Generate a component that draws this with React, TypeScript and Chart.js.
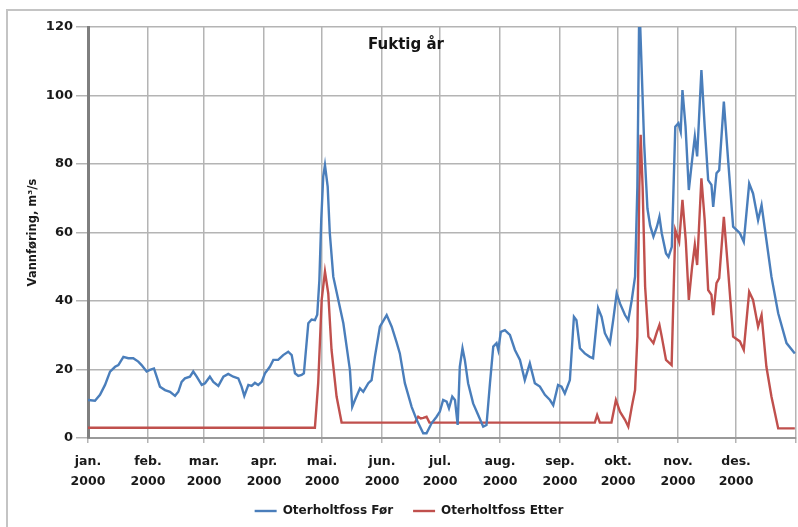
import React, { useEffect, useRef } from "react";
import { Chart, registerables } from "chart.js";

Chart.register(...registerables);

const monthDays = [0, 31, 60, 91, 121, 152, 182, 213, 244, 274, 305, 335, 366];
const monthLabels = ["jan.", "feb.", "mar.", "apr.", "mai.", "jun.", "jul.", "aug.", "sep.", "okt.", "nov.", "des.", ""];
const yearLabel = "2000";
const yTicks = [0, 20, 40, 60, 80, 100, 120];

const forDays = [
  0, 3.6, 6.2, 8.8, 11.4, 14, 15.7, 18.3, 20.8, 23.4, 26, 27.7, 30.3, 32, 34.1, 35.5, 37.2, 39.8, 42.4, 45,
  46.7, 48.4, 50.1, 52.7, 54.4, 56.2, 58.8, 60.5, 63, 64.8, 67.4, 70, 72.5, 75.1, 77.7, 79.4, 80.8, 82.9, 84.6,
  86.3, 88, 89.8, 91.5, 94, 95.8, 98.3, 100.9, 103.5, 105.3, 107, 108.7, 110.4, 111.6, 113.9, 115.6, 117.3,
  118.5, 119.6, 120.6, 121.6, 122.5, 123.9, 125, 126.8, 129.4, 132, 133.7, 135.4, 136.6, 138, 140.6, 142.3, 144.9,
  146.6, 148.3, 150.9, 154.4, 157, 159.5, 161.2, 163.8, 167.3, 169.9, 173.3, 175, 177.6, 180.2, 181.9, 183.6,
  185.4, 186.6, 188.3, 189.7, 191.1, 192.2, 193.6, 194.8, 196.5, 199.1, 201.7, 204.3, 206, 207.8, 209.5, 211.2,
  212.1, 213.4, 215.5, 218.1, 220.7, 223.3, 225.8, 228.4, 231, 233.6, 236.2, 238.8, 240.5, 243, 244.8, 246.5,
  249.1, 251.2, 252.5, 254.3, 256.8, 259.4, 261.1, 263.7, 265.5, 267.2, 269.8, 271.5, 273.3, 275, 277.6, 279.3,
  281.1, 282.8, 284, 285, 286.2, 287.5, 289.2, 290.6, 292.3, 294.1, 295.4, 296.6, 298.8, 300.1, 301.8, 303.6,
  305.2, 306.4, 307.3, 308.9, 310.6, 312.3, 313.7, 314.9, 317.1, 318.8, 320.6, 322.3, 323.2, 324.9, 326.3, 328.7,
  330.9, 333.5, 337, 339, 341.8, 343.8, 346.4, 348.2, 350.7, 353.3, 356.8, 361.1, 365.4,
];
const forValues = [
  11.1, 10.9, 12.6, 15.5, 19.4, 20.8, 21.3, 23.7, 23.3, 23.3, 22.3, 21.3, 19.4, 19.9, 20.3, 17.9, 15, 14, 13.5, 12.3,
  13.5, 16.4, 17.4, 17.9, 19.4, 17.9, 15.5, 16, 17.9, 16.4, 15.2, 17.9, 18.7, 17.9, 17.4, 15, 12.3, 15.5, 15.2,
  16.1, 15.5, 16.4, 18.9, 20.8, 22.8, 22.8, 24.2, 25.2, 24.2, 18.9, 18.1, 18.4, 18.9, 33.5, 34.6, 34.4,
  36, 46, 64, 76.3, 79.7, 73.4, 59.8, 47.1, 40.3, 33.5, 26.7, 19.9, 9.1, 11.1, 14.5, 13.5, 16,
  16.9, 23.7, 32.5, 35.9, 32.5, 28, 24.7, 16, 9.1, 5.3, 1.4, 1.4, 4.3, 6.2, 7.7, 11.1,
  10.6, 8.7, 12.1, 11.1, 3.8, 20.8, 26.2, 22.8, 16, 10.1, 6.7, 3.3, 3.8, 16, 26.7, 27.7,
  25.7, 31, 31.5, 30.1, 25.7, 22.8, 16.9, 21.8, 16, 15, 12.6, 11.1, 9.6, 15.5, 15, 13,
  16.9, 35.4, 34.4, 26.2, 24.7, 23.7, 23.3, 37.9, 35.4, 30.6, 27.7, 34.4, 42.2, 39.3, 35.9, 34.4,
  40.3, 47.1, 73.4, 128, 108, 86, 67, 62, 58.8, 61.7, 64.6, 59.8, 53.9, 52.9, 55.8, 90.9,
  91.9, 89.4, 101.6, 90.9, 72.4, 81.2, 88, 82.2, 107.4, 90.9, 75.3, 73.9, 67.5, 77.3, 78.2, 98.2,
  81.2, 61.7, 59.8, 57.3, 74.3, 71.4, 63.6, 68, 57.8, 47.1, 36.4, 27.7, 24.7,
];

const etterDays = [
  0, 117.3, 119, 120.8, 122.5, 124.2, 125.9, 128.5, 131.1, 169, 170.7, 172, 173.3, 175, 176.5, 262, 263.2, 264.6,
  270.6, 272.9, 275, 277.6, 279.3, 281.1, 282.8, 284, 285, 285.7, 286.7, 288, 289.7, 292.3, 294.1, 295.4, 296.6,
  298.8, 301.7, 303.6, 305.6, 307.3, 309, 310.6, 312.3, 313.7, 314.9, 317.1, 318.8, 320.6, 322.3, 323.2, 324.9,
  326.3, 328.7, 330.9, 333.5, 337, 339, 341.8, 343.8, 346.4, 348.2, 350.7, 353.3, 356.8, 365.4,
];
const etterValues = [
  3, 3, 16, 40.3, 48.6, 42.2, 25.7, 12.1, 4.5, 4.5, 6.2, 5.7, 5.9, 6.2, 4.5, 4.5, 6.7, 4.5,
  4.5, 11.1, 7.7, 5.3, 3.3, 9.1, 14, 29.6, 73.4, 88.5, 73.4, 44.2, 29.6, 27.7, 31, 33, 29.6,
  22.8, 21.3, 60.7, 57.3, 69.5, 57.8, 40.3, 50, 56.4, 50.5, 75.8, 63.6, 43.2, 41.8, 35.9, 45.2,
  46.7, 64.6, 49, 29.6, 28.2, 25.7, 42.7, 40.3, 32.5, 35.9, 20.8, 12.1, 2.8, 2.8,
];

const FONT = "'DejaVu Sans', sans-serif";

export default function App() {
  const ref = useRef<HTMLCanvasElement | null>(null);

  useEffect(() => {
    if (!ref.current) return;
    const titlePlugin = {
      id: "innerTitle",
      afterDraw(chart: any) {
        const ctx = chart.ctx;
        ctx.save();
        ctx.font = `bold 15px ${FONT}`;
        ctx.fillStyle = "#141414";
        ctx.textAlign = "center";
        ctx.textBaseline = "middle";
        ctx.fillText("Fuktig år", 406, 45);
        ctx.restore();
      },
    };
    const chart = new Chart(ref.current, {
      type: "line",
      data: {
        datasets: [
          {
            label: "Oterholtfoss Før",
            data: forDays.map((d, i) => ({ x: d, y: forValues[i] })),
            borderColor: "#4a7ebb",
            backgroundColor: "#4a7ebb",
            borderWidth: 2.4,
            pointRadius: 0,
            tension: 0,
          },
          {
            label: "Oterholtfoss Etter",
            data: etterDays.map((d, i) => ({ x: d, y: etterValues[i] })),
            borderColor: "#c0504d",
            backgroundColor: "#c0504d",
            borderWidth: 2.4,
            pointRadius: 0,
            tension: 0,
          },
        ],
      },
      options: {
        animation: false,
        responsive: false,
        layout: { padding: { left: 22, right: 2, top: 27, bottom: 0 } },
        plugins: {
          legend: {
            position: "bottom",
            labels: {
              usePointStyle: true,
              pointStyle: "line",
              pointStyleWidth: 22,
              font: { family: FONT, size: 12, weight: "bold" },
              color: "#1a1a1a",
              padding: 20,
            },
          },
          tooltip: { enabled: false },
        },
        scales: {
          x: {
            type: "linear",
            min: 0,
            max: 366,
            afterBuildTicks: (s: any) => {
              s.ticks = monthDays.map((v) => ({ value: v }));
            },
            afterFit: (s: any) => {
              s.height = 47;
              s.paddingRight = 0;
              s.paddingLeft = 0;
            },
            ticks: {
              autoSkip: false,
              maxRotation: 0,
              font: { family: FONT, size: 12.5, weight: "bold", lineHeight: 1.6 },
              color: "#1a1a1a",
              padding: 9,
              callback: (v: any) => {
                const i = monthDays.indexOf(Number(v));
                if (i < 0 || monthLabels[i] === "") return "";
                return [monthLabels[i], yearLabel];
              },
            },
            grid: { color: "#b4b4b4", lineWidth: 1.5, tickLength: 5 },
            border: { color: "#9a9a9a", width: 2 },
          },
          y: {
            min: 0,
            max: 120,
            afterBuildTicks: (s: any) => {
              s.ticks = yTicks.map((v) => ({ value: v }));
            },
            afterFit: (s: any) => {
              s.width = 66;
            },
            ticks: {
              font: { family: FONT, size: 13, weight: "bold" },
              color: "#1a1a1a",
              padding: 3,
            },
            grid: { color: "#b4b4b4", lineWidth: 1.5, tickLength: 12 },
            border: { color: "#7f7f7f", width: 3 },
            title: {
              display: true,
              text: "Vannføring, m³/s",
              font: { family: FONT, size: 11.5, weight: "bold" },
              color: "#1a1a1a",
            },
          },
        },
      },
      plugins: [titlePlugin],
    });
    return () => chart.destroy();
  }, []);

  return (
    <div style={{ position: "fixed", left: 0, top: 0, width: 798, height: 527, background: "#fff", overflow: "hidden" }}>
      <div
        style={{
          position: "absolute",
          left: 6,
          top: 9,
          width: 900,
          height: 700,
          border: "2px solid #c4c4c4",
        }}
      />
      <canvas ref={ref} width={798} height={527} style={{ position: "absolute", left: 0, top: 0 }} />
    </div>
  );
}
